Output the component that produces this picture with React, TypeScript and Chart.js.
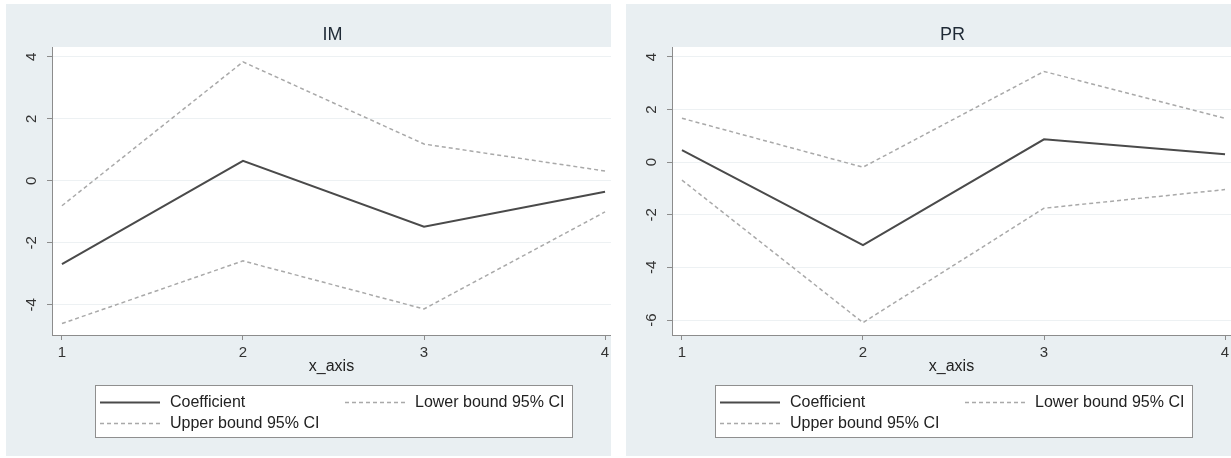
import React, { useEffect, useRef } from "react";
import { Chart, registerables } from "chart.js";

Chart.register(...registerables);

// ---- data ----
const xValues = [1, 2, 3, 4];
const xTicks = [1, 2, 3, 4];
const seriesLabels = ["Coefficient", "Lower bound 95% CI", "Upper bound 95% CI"];
const xAxisTitle = "x_axis";

const imTitle = "IM";
const imCoefficient = [-2.68, 0.65, -1.48, -0.35];
const imLower = [-4.6, -2.58, -4.13, -1.0];
const imUpper = [-0.8, 3.84, 1.19, 0.32];
const imYTicks = [-4, -2, 0, 2, 4];

const prTitle = "PR";
const prCoefficient = [0.46, -3.15, 0.87, 0.3];
const prLower = [-0.68, -6.1, -1.75, -1.04];
const prUpper = [1.67, -0.19, 3.45, 1.67];
const prYTicks = [-6, -4, -2, 0, 2, 4];

// ---- styles ----
const FAMILY = "'Liberation Sans', Arial, sans-serif";
const PANEL_BG = "#e9eff2";
const COEF_COLOR = "#4a4a4a";
const CI_COLOR = "#a9a9a9";
const AXIS_COLOR = "#8c8c8c";
const GRID_COLOR = "#edf1f3";
const TEXT_COLOR = "#333333";
const TITLE_COLOR = "#1f2a36";
const PANEL_W = 605;
const PANEL_H = 452;

function makePanelPlugin(title: string) {
  return {
    id: "panelDecor",
    beforeDraw(chart: any) {
      const { ctx, chartArea } = chart;
      ctx.save();
      ctx.fillStyle = PANEL_BG;
      ctx.fillRect(0, 0, chart.width, chart.height);
      ctx.fillStyle = "#ffffff";
      ctx.fillRect(chartArea.left, chartArea.top, chartArea.right - chartArea.left, chartArea.bottom - chartArea.top);
      ctx.restore();
    },
    afterDraw(chart: any) {
      const { ctx, chartArea } = chart;
      ctx.save();
      // title
      ctx.fillStyle = TITLE_COLOR;
      ctx.font = `18px ${FAMILY}`;
      ctx.textAlign = "center";
      ctx.textBaseline = "alphabetic";
      ctx.fillText(title, (chartArea.left + chartArea.right) / 2 + 1, 36);

      // legend box
      const bx = 89, by = 381, bw = 478, bh = 53;
      ctx.fillStyle = "#ffffff";
      ctx.fillRect(bx, by, bw, bh);
      ctx.strokeStyle = "#8f8f8f";
      ctx.lineWidth = 1;
      ctx.strokeRect(bx + 0.5, by + 0.5, bw - 1, bh - 1);

      const slots = [
        { lx: 94, ly: 398 },
        { lx: 339, ly: 398 },
        { lx: 94, ly: 419 },
      ];
      chart.data.datasets.forEach((ds: any, i: number) => {
        const s = slots[i];
        ctx.beginPath();
        ctx.strokeStyle = ds.borderColor;
        ctx.lineWidth = ds.borderWidth;
        ctx.setLineDash(ds.borderDash || []);
        ctx.moveTo(s.lx, s.ly + 0.5);
        ctx.lineTo(s.lx + 60, s.ly + 0.5);
        ctx.stroke();
        ctx.setLineDash([]);
        ctx.fillStyle = "#222222";
        ctx.font = `16px ${FAMILY}`;
        ctx.textAlign = "left";
        ctx.textBaseline = "middle";
        ctx.fillText(ds.label, s.lx + 70, s.ly + 1);
      });
      ctx.restore();
    },
  };
}

type PanelProps = {
  left: number;
  title: string;
  coef: number[];
  lower: number[];
  upper: number[];
  yTicks: number[];
  yMin: number;
  yMax: number;
};

function Panel({ left, title, coef, lower, upper, yTicks, yMin, yMax }: PanelProps) {
  const ref = useRef<HTMLCanvasElement>(null);
  useEffect(() => {
    const canvas = ref.current!;
    const toPts = (arr: number[]) => xValues.map((x, i) => ({ x, y: arr[i] }));
    const chart = new Chart(canvas, {
      type: "line",
      data: {
        datasets: [
          {
            label: seriesLabels[0],
            data: toPts(coef),
            borderColor: COEF_COLOR,
            borderWidth: 2,
            pointRadius: 0,
            tension: 0,
            fill: false,
          },
          {
            label: seriesLabels[1],
            data: toPts(lower),
            borderColor: CI_COLOR,
            borderWidth: 1.5,
            borderDash: [4, 3],
            pointRadius: 0,
            tension: 0,
            fill: false,
          },
          {
            label: seriesLabels[2],
            data: toPts(upper),
            borderColor: CI_COLOR,
            borderWidth: 1.5,
            borderDash: [4, 3],
            pointRadius: 0,
            tension: 0,
            fill: false,
          },
        ],
      },
      options: {
        responsive: false,
        animation: false,
        layout: { padding: { top: 43, left: 0, right: 0, bottom: 80 } },
        plugins: {
          legend: { display: false },
          title: { display: false },
          tooltip: { enabled: false },
        },
        scales: {
          x: {
            type: "linear",
            min: 0.945,
            max: 4.033,
            afterBuildTicks: (s: any) => {
              s.ticks = xTicks.map((v) => ({ value: v }));
            },
            afterFit: (s: any) => {
              s.height = 41;
              s.paddingLeft = 0;
              s.paddingRight = 0;
            },
            grid: { drawOnChartArea: false, tickLength: 5, tickColor: AXIS_COLOR },
            border: { color: AXIS_COLOR, width: 1 },
            ticks: {
              padding: 4,
              autoSkip: false,
              maxRotation: 0,
              color: TEXT_COLOR,
              font: { size: 15, family: FAMILY },
            },
            title: {
              display: true,
              text: xAxisTitle,
              color: "#222222",
              padding: 0,
              font: { size: 16, family: FAMILY },
            },
          },
          y: {
            type: "linear",
            min: yMin,
            max: yMax,
            afterBuildTicks: (s: any) => {
              s.ticks = yTicks.map((v) => ({ value: v }));
            },
            afterFit: (s: any) => {
              s.width = 46;
              s.paddingTop = 0;
              s.paddingBottom = 0;
            },
            grid: { color: GRID_COLOR, tickLength: 5, tickColor: AXIS_COLOR },
            border: { color: AXIS_COLOR, width: 1 },
            ticks: {
              padding: 8,
              autoSkip: false,
              minRotation: 90,
              maxRotation: 90,
              crossAlign: "center",
              color: TEXT_COLOR,
              font: { size: 15, family: FAMILY },
            },
          },
        },
      } as any,
      plugins: [makePanelPlugin(title)],
    });
    return () => chart.destroy();
  }, []);
  return (
    <div style={{ position: "absolute", left, top: 4, width: PANEL_W, height: PANEL_H, background: PANEL_BG }}>
      <canvas ref={ref} width={PANEL_W} height={PANEL_H} style={{ display: "block", width: PANEL_W, height: PANEL_H }} />
    </div>
  );
}

export default function App() {
  return (
    <div style={{ position: "absolute", left: 0, top: 0, width: 1231, height: 458, background: "#ffffff", overflow: "hidden" }}>
      <Panel left={6} title={imTitle} coef={imCoefficient} lower={imLower} upper={imUpper} yTicks={imYTicks} yMin={-4.97} yMax={4.32} />
      <Panel left={626} title={prTitle} coef={prCoefficient} lower={prLower} upper={prUpper} yTicks={prYTicks} yMin={-6.57} yMax={4.38} />
    </div>
  );
}
